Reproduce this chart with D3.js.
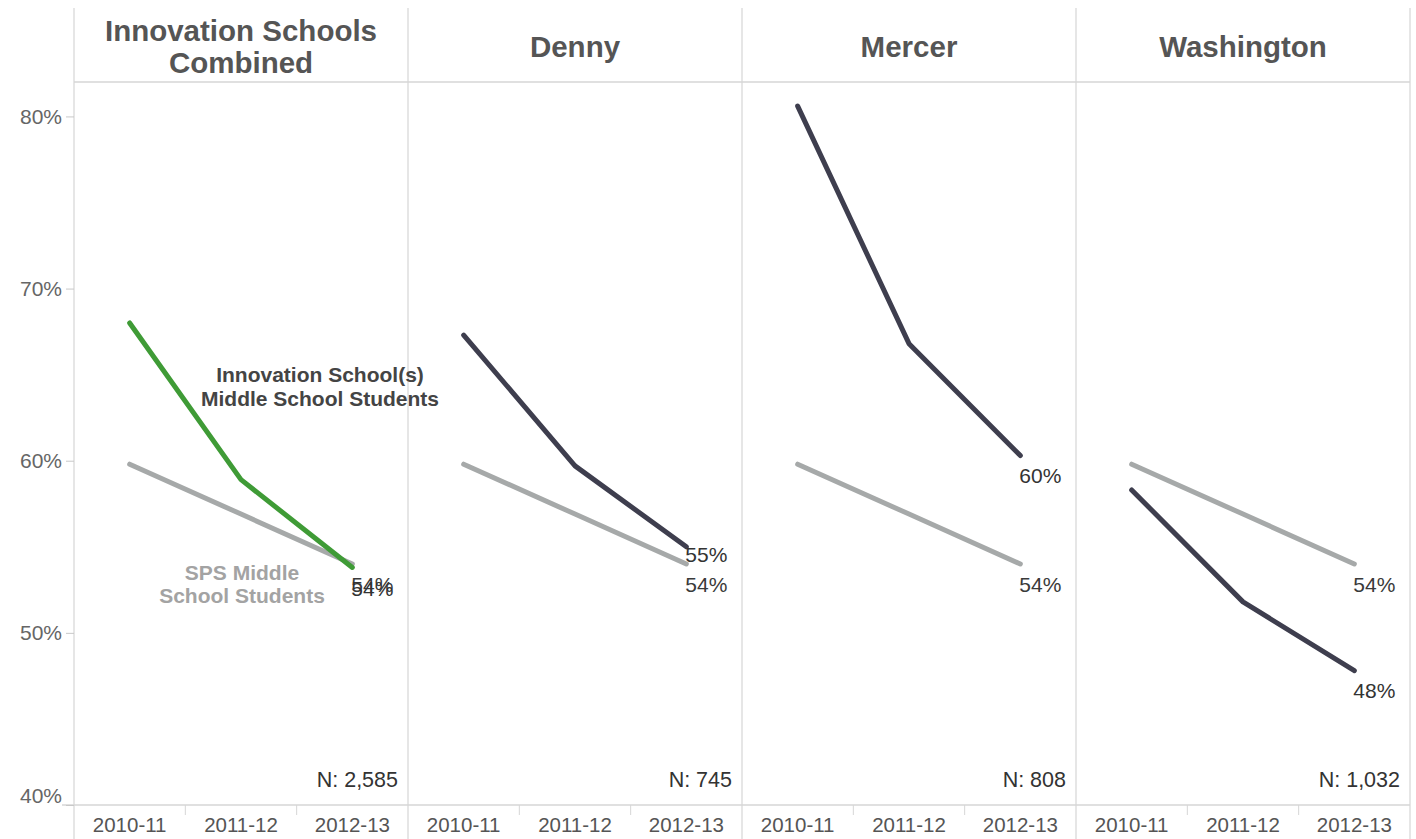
<!DOCTYPE html>
<html>
<head>
<meta charset="utf-8">
<script src="https://cdn.jsdelivr.net/npm/d3@7"></script>
<style>
  html, body { margin: 0; padding: 0; background: #fff; }
  svg { display: block; font-family: "Liberation Sans", Arial, sans-serif; }
</style>
</head>
<body>
<script>
// ---- data ----
const schools = ["Innovation Schools Combined", "Denny", "Mercer", "Washington"];
const headerLines = [["Innovation Schools", "Combined"], ["Denny"], ["Mercer"], ["Washington"]];
const years = ["2010-11", "2011-12", "2012-13"];
const spsValues = [59.8, 56.9, 54.0];
const combinedValues = [68.0, 58.9, 53.8];
const dennyValues = [67.3, 59.7, 55.0];
const mercerValues = [80.6, 66.8, 60.3];
const washingtonValues = [58.3, 51.8, 47.8];
const schoolValues = [combinedValues, dennyValues, mercerValues, washingtonValues];
const nCounts = ["2,585", "745", "808", "1,032"];
const yTicks = [40, 50, 60, 70, 80];

// ---- layout ----
const W = 1416, H = 839;
const svg = d3.select("body").append("svg").attr("width", W).attr("height", H);

const fx = d3.scaleBand().domain(schools).range([74, 1410]);
const x = d3.scaleBand().domain(years).range([0, fx.bandwidth()]);
const y = d3.scaleLinear().domain([40, 82]).range([805, 82]);
const gridColor = "#d6d6d6";

// panel borders
const edges = schools.map(s => fx(s)).concat([fx.range()[1]]);
svg.append("g").selectAll("line").data(edges).join("line")
  .attr("x1", d => d).attr("x2", d => d).attr("y1", 8).attr("y2", H)
  .attr("stroke", gridColor).attr("stroke-width", 1.2);

// header separator & x-axis baseline
svg.append("line").attr("x1", 74).attr("x2", 1410).attr("y1", y(82)).attr("y2", y(82))
  .attr("stroke", gridColor).attr("stroke-width", 1.5);
svg.append("line").attr("x1", 62).attr("x2", 1410).attr("y1", y(40)).attr("y2", y(40))
  .attr("stroke", gridColor).attr("stroke-width", 1.5);

// y axis
const yAxis = svg.append("g").attr("transform", "translate(74,0)")
  .call(d3.axisLeft(y).tickValues(yTicks).tickFormat(d => d + "%").tickSize(8).tickPadding(4));
yAxis.select(".domain").remove();
yAxis.selectAll(".tick line").attr("stroke", "#c8c8c8");
yAxis.selectAll(".tick text").attr("fill", "#666").attr("font-size", 21)
  .attr("font-family", "Liberation Sans, Arial, sans-serif")
  .attr("dy", d => d === 40 ? "-0.12em" : "0.32em");

// panels
const lineGen = (vals) => d3.line()
  .x((d, i) => x(years[i]) + x.bandwidth() / 2)
  .y(d => y(d))(vals);

schools.forEach((s, si) => {
  const g = svg.append("g").attr("transform", `translate(${fx(s)},0)`);

  // header
  const lines = headerLines[si];
  const hc = 46;
  lines.forEach((t, li) => {
    g.append("text")
      .attr("x", fx.bandwidth() / 2)
      .attr("y", hc + (li - (lines.length - 1) / 2) * 32)
      .attr("dy", "0.36em")
      .attr("text-anchor", "middle")
      .attr("font-size", 29.5).attr("font-weight", "bold").attr("fill", "#555")
      .text(t);
  });

  // x axis
  const xa = g.append("g").attr("transform", `translate(0,${y(40)})`)
    .call(d3.axisBottom(x).tickSize(0).tickPadding(12));
  xa.select(".domain").remove();
  xa.selectAll(".tick text").attr("fill", "#555").attr("font-size", 20.5)
    .attr("font-family", "Liberation Sans, Arial, sans-serif");
  g.append("g").selectAll("line").data(years.slice(1)).join("line")
    .attr("x1", d => x(d)).attr("x2", d => x(d))
    .attr("y1", y(40)).attr("y2", y(40) + 10)
    .attr("stroke", gridColor);

  // lines
  const vals = schoolValues[si];
  g.append("path").attr("d", lineGen(spsValues))
    .attr("fill", "none").attr("stroke", "#a6a9a9").attr("stroke-width", 5)
    .attr("stroke-linecap", "round").attr("stroke-linejoin", "round");
  g.append("path").attr("d", lineGen(vals))
    .attr("fill", "none").attr("stroke", si === 0 ? "#3f9b36" : "#3e3e4e").attr("stroke-width", 5)
    .attr("stroke-linecap", "round").attr("stroke-linejoin", "round");

  // end labels
  const last = years.length - 1;
  const lx = x(years[last]) + x.bandwidth() / 2 - 1;
  const graySy = y(spsValues[last]) + 20;
  let schoolSy = y(vals[last]) + 20;
  const sameText = Math.round(vals[last]) === Math.round(spsValues[last]);
  if (!sameText && Math.abs(schoolSy - graySy) < 22) schoolSy = y(vals[last]) + 8;
  if (sameText) schoolSy = graySy + 4;
  g.append("text").attr("x", lx).attr("y", graySy).attr("dy", "0.36em")
    .attr("font-size", 21).attr("fill", "#3a3a3a").text(Math.round(spsValues[last]) + "%");
  g.append("text").attr("x", lx).attr("y", schoolSy).attr("dy", "0.36em")
    .attr("font-size", 21).attr("fill", "#333").text(Math.round(vals[last]) + "%");

  // N label
  g.append("text").attr("x", fx.bandwidth() - 10).attr("y", 779).attr("dy", "0.36em")
    .attr("text-anchor", "end").attr("font-size", 21.5).attr("fill", "#333")
    .text("N: " + nCounts[si]);
});

// annotations in first panel
const p0 = fx(schools[0]);
const ann1 = svg.append("text").attr("text-anchor", "middle")
  .attr("font-size", 21).attr("font-weight", "bold").attr("fill", "#444");
ann1.append("tspan").attr("x", p0 + 246).attr("y", 382).text("Innovation School(s)");
ann1.append("tspan").attr("x", p0 + 246).attr("y", 406).text("Middle School Students");

const ann2 = svg.append("text").attr("text-anchor", "middle")
  .attr("font-size", 21).attr("font-weight", "bold").attr("fill", "#a3a3a3");
ann2.append("tspan").attr("x", p0 + 168).attr("y", 580).text("SPS Middle");
ann2.append("tspan").attr("x", p0 + 168).attr("y", 603).text("School Students");
</script>
</body>
</html>
